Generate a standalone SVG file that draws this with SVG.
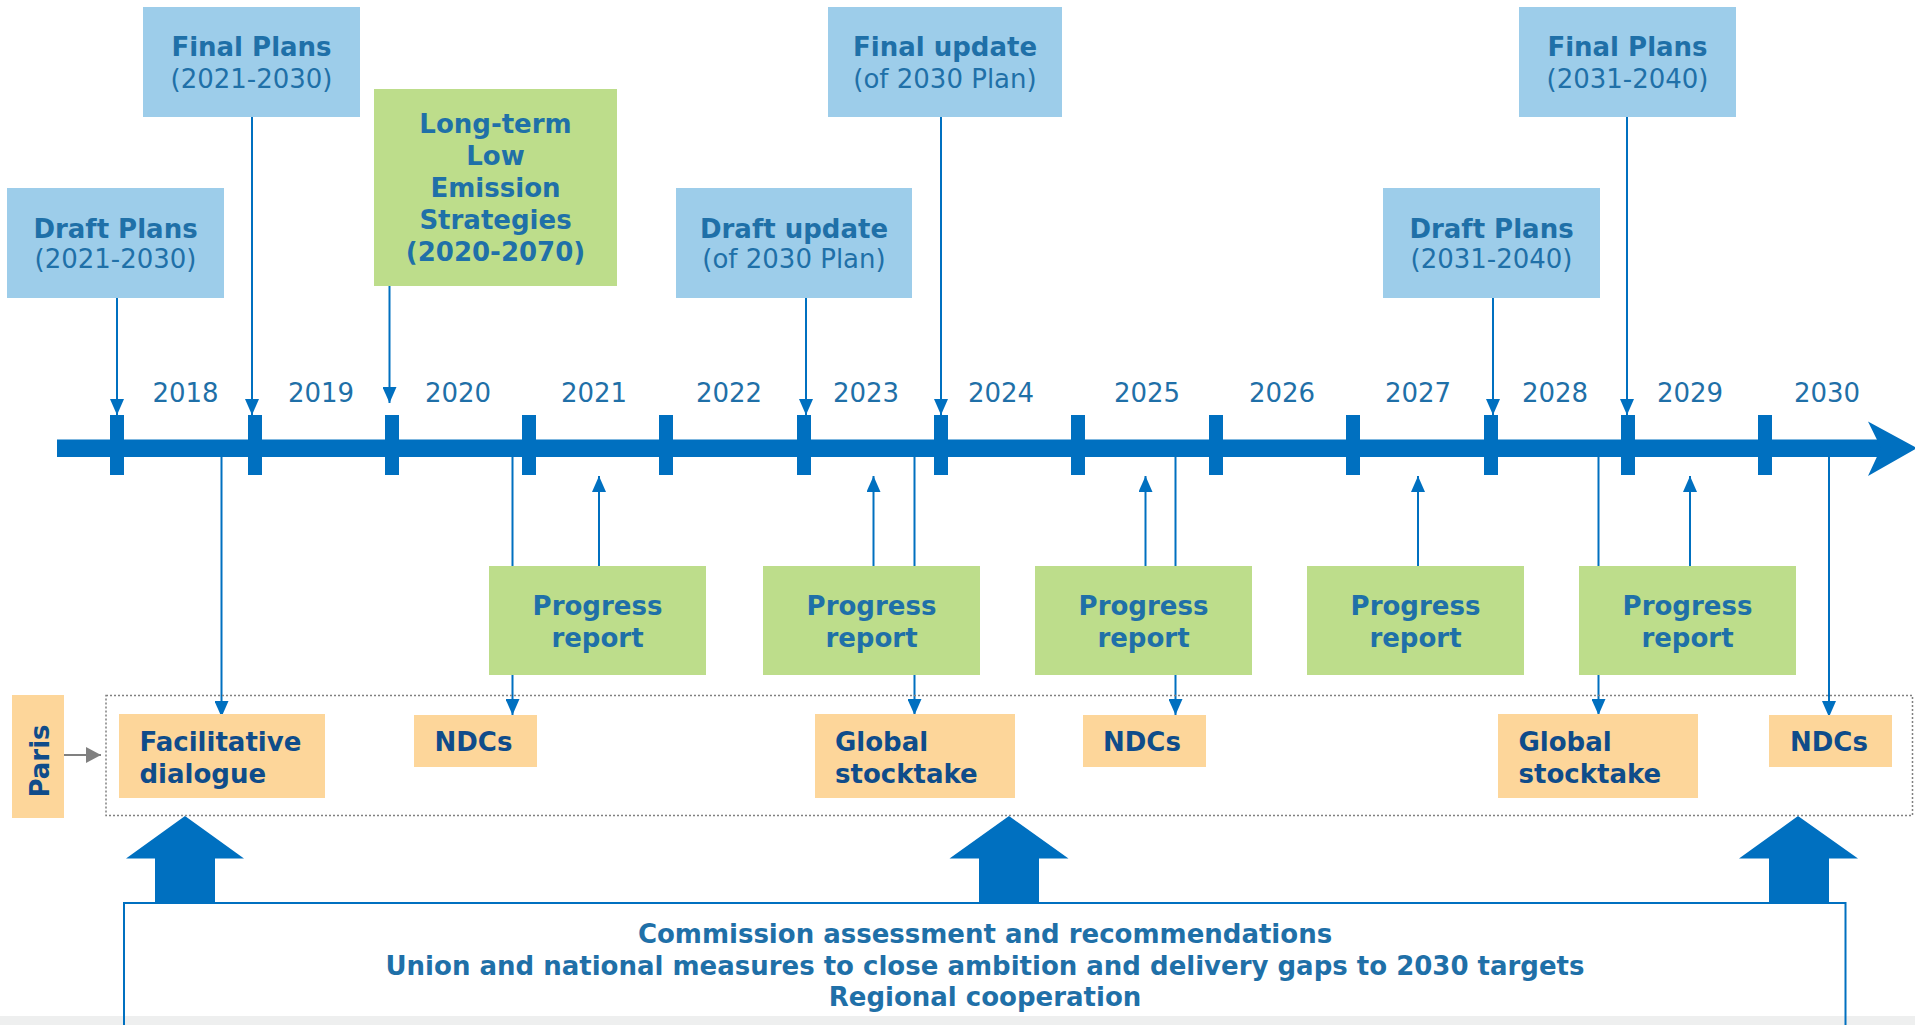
<svg xmlns="http://www.w3.org/2000/svg" width="1915" height="1025" viewBox="0 0 1915 1025">
<defs>
<style>
text{font-family:Verdana,"DejaVu Sans",sans-serif;font-size:26px;}
.b{font-weight:bold;}
.t{fill:#1F70A8;}
.n{fill:#0F4C8A;font-weight:bold;}
.c{text-anchor:middle;}
.blue{fill:#9DCDEA;}
.green{fill:#BDDD8B;}
.orange{fill:#FDD69A;}
.ln{stroke:#0070C0;stroke-width:2;fill:none;}
.tick{fill:#0070C0;}
</style>
<marker id="ah" markerUnits="userSpaceOnUse" markerWidth="16" markerHeight="14" refX="16" refY="7" orient="auto">
<path d="M0,0 L16,7 L0,14 z" fill="#0070C0"/>
</marker>
<marker id="gah" markerUnits="userSpaceOnUse" markerWidth="15" markerHeight="16" refX="15" refY="8" orient="auto">
<path d="M0,0 L15,8 L0,16 z" fill="#808080"/>
</marker>
</defs>
<rect x="0" y="0" width="1915" height="1025" fill="#FFFFFF"/>

<!-- connectors -->
<g id="connectors">
<line class="ln" x1="117" y1="298" x2="117" y2="415" marker-end="url(#ah)"/>
<line class="ln" x1="252" y1="117" x2="252" y2="415" marker-end="url(#ah)"/>
<line class="ln" x1="389.5" y1="286" x2="389.5" y2="403" marker-end="url(#ah)"/>
<line class="ln" x1="806" y1="298" x2="806" y2="415" marker-end="url(#ah)"/>
<line class="ln" x1="941" y1="117" x2="941" y2="415" marker-end="url(#ah)"/>
<line class="ln" x1="1493" y1="298" x2="1493" y2="415" marker-end="url(#ah)"/>
<line class="ln" x1="1627" y1="117" x2="1627" y2="415" marker-end="url(#ah)"/>

<line class="ln" x1="221.5" y1="456" x2="221.5" y2="717" marker-end="url(#ah)"/>
<line class="ln" x1="512.5" y1="456" x2="512.5" y2="715" marker-end="url(#ah)"/>
<line class="ln" x1="914.5" y1="456" x2="914.5" y2="715" marker-end="url(#ah)"/>
<line class="ln" x1="1175.5" y1="456" x2="1175.5" y2="715" marker-end="url(#ah)"/>
<line class="ln" x1="1598.5" y1="456" x2="1598.5" y2="715" marker-end="url(#ah)"/>
<line class="ln" x1="1829" y1="456" x2="1829" y2="717" marker-end="url(#ah)"/>

<line class="ln" x1="599" y1="566" x2="599" y2="476" marker-end="url(#ah)"/>
<line class="ln" x1="873.5" y1="566" x2="873.5" y2="476" marker-end="url(#ah)"/>
<line class="ln" x1="1145.5" y1="566" x2="1145.5" y2="476" marker-end="url(#ah)"/>
<line class="ln" x1="1418" y1="566" x2="1418" y2="476" marker-end="url(#ah)"/>
<line class="ln" x1="1690" y1="566" x2="1690" y2="476" marker-end="url(#ah)"/>

<line x1="64" y1="755" x2="101" y2="755" stroke="#808080" stroke-width="2" marker-end="url(#gah)"/>
</g>

<!-- timeline -->
<g id="timeline">
<rect x="57" y="439.5" width="1828" height="17.5" fill="#0070C0"/>
<path d="M1868,421.5 L1917,448 L1868,476 L1881,448 z" fill="#0070C0"/>
<rect class="tick" x="110" y="415" width="14" height="60"/>
<rect class="tick" x="248" y="415" width="14" height="60"/>
<rect class="tick" x="385" y="415" width="14" height="60"/>
<rect class="tick" x="522" y="415" width="14" height="60"/>
<rect class="tick" x="659" y="415" width="14" height="60"/>
<rect class="tick" x="797" y="415" width="14" height="60"/>
<rect class="tick" x="934" y="415" width="14" height="60"/>
<rect class="tick" x="1071" y="415" width="14" height="60"/>
<rect class="tick" x="1209" y="415" width="14" height="60"/>
<rect class="tick" x="1346" y="415" width="14" height="60"/>
<rect class="tick" x="1484" y="415" width="14" height="60"/>
<rect class="tick" x="1621" y="415" width="14" height="60"/>
<rect class="tick" x="1758" y="415" width="14" height="60"/>
<g class="t">
<text class="c" x="185.5" y="402">2018</text>
<text class="c" x="321" y="402">2019</text>
<text class="c" x="458" y="402">2020</text>
<text class="c" x="594" y="402">2021</text>
<text class="c" x="729" y="402">2022</text>
<text class="c" x="866" y="402">2023</text>
<text class="c" x="1001" y="402">2024</text>
<text class="c" x="1147" y="402">2025</text>
<text class="c" x="1282" y="402">2026</text>
<text class="c" x="1418" y="402">2027</text>
<text class="c" x="1555" y="402">2028</text>
<text class="c" x="1690" y="402">2029</text>
<text class="c" x="1827" y="402">2030</text>
</g>
</g>

<!-- top boxes -->
<g id="draft-plans-2030">
<rect class="blue" x="7" y="188" width="217" height="110"/>
<text class="t b c" x="115.5" y="238">Draft Plans</text>
<text class="t c" x="115.5" y="268">(2021-2030)</text>
</g>
<g id="final-plans-2030">
<rect class="blue" x="143" y="7" width="217" height="110"/>
<text class="t b c" x="251.5" y="56">Final Plans</text>
<text class="t c" x="251.5" y="88">(2021-2030)</text>
</g>
<g id="long-term">
<rect class="green" x="374" y="89" width="243" height="197"/>
<text class="t b c" x="495.5" y="133">Long-term</text>
<text class="t b c" x="495.5" y="165">Low</text>
<text class="t b c" x="495.5" y="197">Emission</text>
<text class="t b c" x="495.5" y="229">Strategies</text>
<text class="t b c" x="495.5" y="261">(2020-2070)</text>
</g>
<g id="draft-update">
<rect class="blue" x="676" y="188" width="236" height="110"/>
<text class="t b c" x="794" y="238">Draft update</text>
<text class="t c" x="794" y="268">(of 2030 Plan)</text>
</g>
<g id="final-update">
<rect class="blue" x="828" y="7" width="234" height="110"/>
<text class="t b c" x="945" y="56">Final update</text>
<text class="t c" x="945" y="88">(of 2030 Plan)</text>
</g>
<g id="draft-plans-2040">
<rect class="blue" x="1383" y="188" width="217" height="110"/>
<text class="t b c" x="1491.5" y="238">Draft Plans</text>
<text class="t c" x="1491.5" y="268">(2031-2040)</text>
</g>
<g id="final-plans-2040">
<rect class="blue" x="1519" y="7" width="217" height="110"/>
<text class="t b c" x="1627.5" y="56">Final Plans</text>
<text class="t c" x="1627.5" y="88">(2031-2040)</text>
</g>

<!-- progress reports -->
<g id="progress-1">
<rect class="green" x="489" y="566" width="217" height="109"/>
<text class="t b c" x="597.5" y="615">Progress</text>
<text class="t b c" x="597.5" y="647">report</text>
</g>
<g id="progress-2">
<rect class="green" x="763" y="566" width="217" height="109"/>
<text class="t b c" x="871.5" y="615">Progress</text>
<text class="t b c" x="871.5" y="647">report</text>
</g>
<g id="progress-3">
<rect class="green" x="1035" y="566" width="217" height="109"/>
<text class="t b c" x="1143.5" y="615">Progress</text>
<text class="t b c" x="1143.5" y="647">report</text>
</g>
<g id="progress-4">
<rect class="green" x="1307" y="566" width="217" height="109"/>
<text class="t b c" x="1415.5" y="615">Progress</text>
<text class="t b c" x="1415.5" y="647">report</text>
</g>
<g id="progress-5">
<rect class="green" x="1579" y="566" width="217" height="109"/>
<text class="t b c" x="1687.5" y="615">Progress</text>
<text class="t b c" x="1687.5" y="647">report</text>
</g>

<!-- Paris -->
<g id="paris">
<rect class="orange" x="12" y="695" width="52" height="123"/>
<text class="n c" transform="translate(48.5,761) rotate(-90)" x="0" y="0">Paris</text>
</g>
<rect id="paris-frame" x="106" y="695.5" width="1806.5" height="120" fill="none" stroke="#808080" stroke-width="1.5" stroke-dasharray="2,2"/>

<g id="facilitative">
<rect class="orange" x="119" y="714" width="206" height="84"/>
<text class="n" x="139.5" y="751">Facilitative</text>
<text class="n" x="139.5" y="783">dialogue</text>
</g>
<g id="ndcs-1">
<rect class="orange" x="414" y="715" width="123" height="52"/>
<text class="n" x="434.5" y="751">NDCs</text>
</g>
<g id="stocktake-1">
<rect class="orange" x="815" y="714" width="200" height="84"/>
<text class="n" x="835" y="751">Global</text>
<text class="n" x="835" y="783">stocktake</text>
</g>
<g id="ndcs-2">
<rect class="orange" x="1083" y="715" width="123" height="52"/>
<text class="n" x="1103" y="751">NDCs</text>
</g>
<g id="stocktake-2">
<rect class="orange" x="1498" y="714" width="200" height="84"/>
<text class="n" x="1518.5" y="751">Global</text>
<text class="n" x="1518.5" y="783">stocktake</text>
</g>
<g id="ndcs-3">
<rect class="orange" x="1769" y="715" width="123" height="52"/>
<text class="n" x="1790" y="751">NDCs</text>
</g>

<!-- big arrows -->
<g id="big-arrows" fill="#0070C0">
<polygon points="185,816 244,858.5 215,858.5 215,903 155,903 155,858.5 126,858.5"/>
<polygon points="1009,816 1068.5,858.5 1039,858.5 1039,903 979,903 979,858.5 949.5,858.5"/>
<polygon points="1798,816 1858,858.5 1829,858.5 1829,903 1769,903 1769,858.5 1739,858.5"/>
</g>

<!-- bottom box -->
<rect x="0" y="1016" width="1915" height="9" fill="#EEEFEF"/>
<g id="commission">
<path d="M124,1025 L124,903 L1845.5,903 L1845.5,1025" fill="none" stroke="#0070C0" stroke-width="2"/>
<text class="t b c" x="985" y="943">Commission assessment and recommendations</text>
<text class="t b c" x="985" y="975">Union and national measures to close ambition and delivery gaps to 2030 targets</text>
<text class="t b c" x="985" y="1006">Regional cooperation</text>
</g>
</svg>
